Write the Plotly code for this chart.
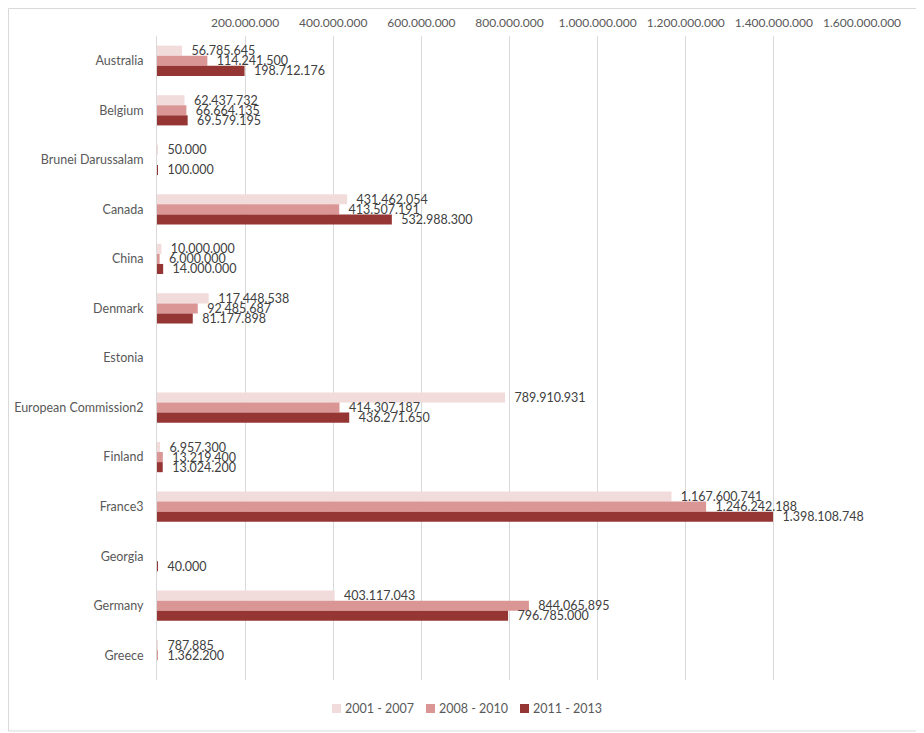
import plotly.graph_objects as go

countries = ["Australia", "Belgium", "Brunei Darussalam", "Canada", "China", "Denmark",
             "Estonia", "European Commission2", "Finland", "France3", "Georgia",
             "Germany", "Greece"]
p2001_2007 = [56785645, 62437732, 50000, 431462054, 10000000, 117448538, None,
              789910931, 6957300, 1167600741, None, 403117043, 787885]
p2008_2010 = [114241500, 66664135, None, 413507191, 6000000, 92485687, None,
              414307187, 13219400, 1246242188, None, 844065895, 1362200]
p2011_2013 = [198712176, 69579195, 100000, 532988300, 14000000, 81177898, None,
              436271650, 13024200, 1398108748, 40000, 796785000, None]
series_names = ["2001 - 2007", "2008 - 2010", "2011 - 2013"]
colors = ["#F2DCDB", "#DA9694", "#963634"]
tick_vals = [200000000, 400000000, 600000000, 800000000, 1000000000,
             1200000000, 1400000000, 1600000000]


def fmt(v):
    return f"{v:,}".replace(",", ".")


def lbl(v):
    if v is None:
        return ""
    return "\u00a0\u00a0" + fmt(v)


# page body adds an 8px offset; right/bottom 8px fall outside the window
W, H = 924, 733
L, R, T, B = 149, 70, 28, 61
pw, ph = W - L - R, H - T - B


def px(sx):  # screen x -> paper x
    return (sx - 8 - L) / pw


def py(sy):  # screen y -> paper y
    return (H - B - (sy - 8)) / ph


fig = go.Figure()
for name, vals, c in zip(series_names, [p2001_2007, p2008_2010, p2011_2013], colors):
    fig.add_trace(go.Bar(y=countries, x=vals, name=name, orientation="h",
                         marker=dict(color=c, line=dict(width=0)),
                         text=[lbl(v) for v in vals], textposition="outside",
                         constraintext="none", cliponaxis=False,
                         textfont=dict(color="#404040", size=12.5),
                         hoverinfo="skip", showlegend=False))

fig.update_layout(
    width=W, height=H, barmode="group", bargap=0.39, bargroupgap=0,
    font=dict(family="Lato", size=12.5, color="#595959"),
    plot_bgcolor="white", paper_bgcolor="white",
    margin=dict(l=L, r=R, t=T, b=B),
)
fig.update_xaxes(side="top", range=[0, 1600000000], tickvals=tick_vals,
                 ticktext=[fmt(v) for v in tick_vals], showgrid=True,
                 gridcolor="#D9D9D9", zeroline=False, showline=False,
                 tickfont=dict(size=12), ticklabelstandoff=6,
                 automargin=False, fixedrange=True)
fig.update_yaxes(type="category", autorange="reversed", showline=True,
                 linecolor="#D9D9D9", linewidth=1, ticks="", ticklabelstandoff=10,
                 showgrid=False, automargin=False, layer="above traces",
                 fixedrange=True)

# legend drawn by hand, Excel style
leg_x = [332, 426, 520]
for sx, name, c in zip(leg_x, series_names, colors):
    fig.add_shape(type="rect", xref="paper", yref="paper",
                  x0=px(sx), x1=px(sx + 9), y0=py(713), y1=py(704),
                  line=dict(width=0), fillcolor=c)
    fig.add_annotation(xref="paper", yref="paper", x=px(sx + 11), y=py(708.5),
                       xanchor="left", yanchor="middle", showarrow=False,
                       text=name, font=dict(size=12.5, color="#595959"))

# chart area border
fig.add_shape(type="rect", xref="paper", yref="paper",
              x0=px(8.5), x1=px(922), y0=py(731), y1=py(8.5),
              line=dict(color="#D9D9D9", width=1), layer="below")

fig.write_html("out.html")
